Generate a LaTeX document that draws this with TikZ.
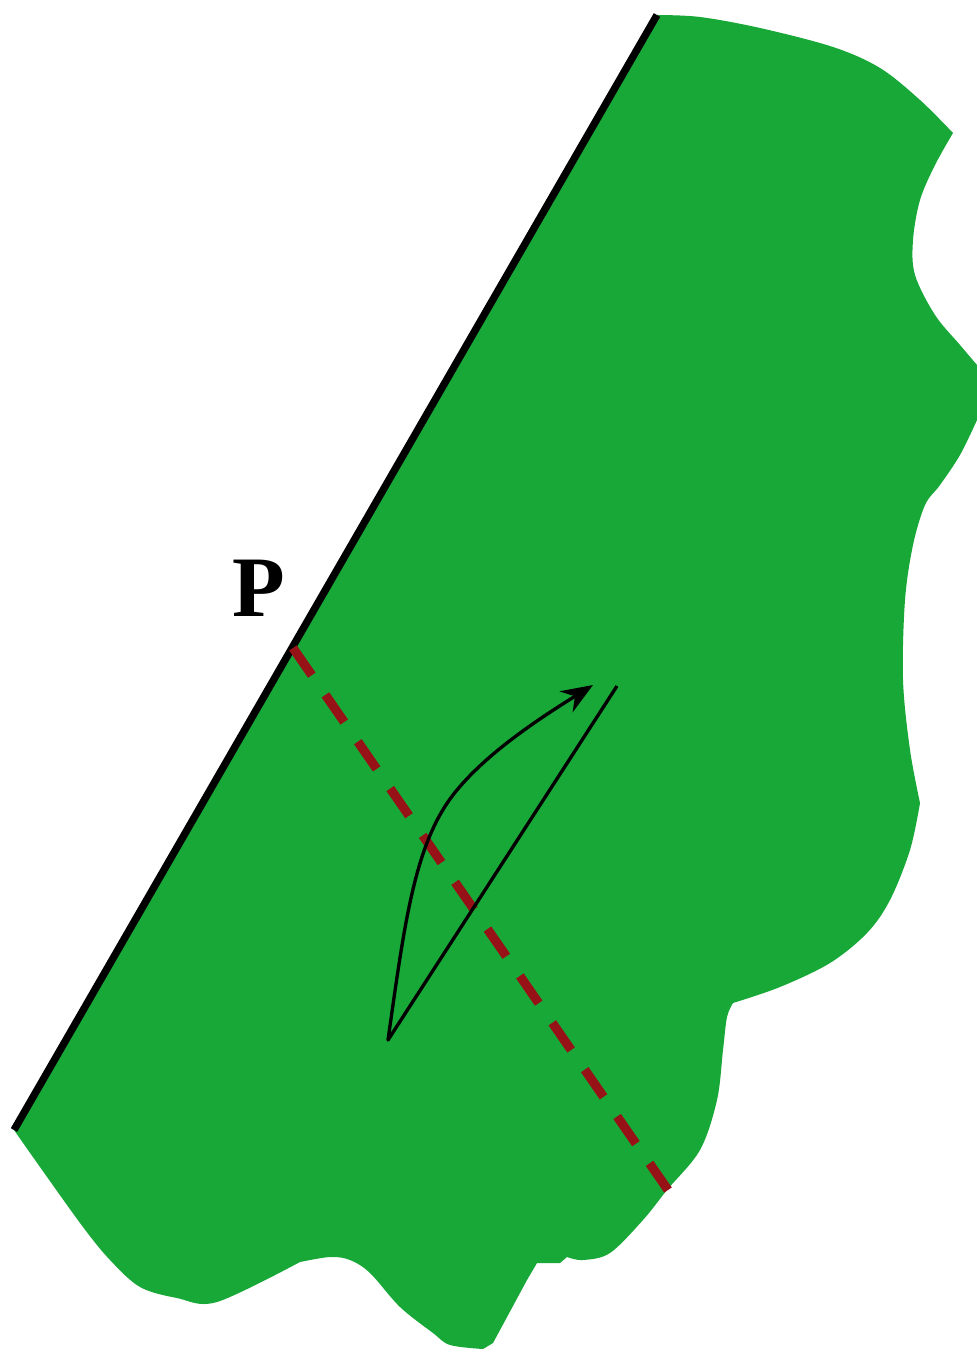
\documentclass[tikz,border=0pt]{standalone}
\usepackage{fontspec}
\setmainfont{Liberation Serif}
\usetikzlibrary{arrows.meta}
\definecolor{landgreen}{RGB}{24,168,56}
\definecolor{cutred}{RGB}{150,18,22}
\begin{document}
\begin{tikzpicture}[x=0.01cm,y=-0.01cm,
  shore/.style={line width=2.1pt,black},
  cutline/.style={cutred,line width=2.6pt,dash pattern=on 9.4pt off 6.8pt},
  motion/.style={black,line width=0.95pt,line join=round}]
\useasboundingbox (0,0) rectangle (977,1349);
% green region
\fill[landgreen] (657,15)
  -- plot[smooth,tension=0.55] coordinates {(657,15) (700,17) (760,28) (833,47) (880,68) (920,100) (953,133)}
  -- plot[smooth,tension=0.55] coordinates {(953,133) (935,165) (920,200) (913,240) (915,275) (935,315) (960,345) (977,365)}
  -- (977,420)
  -- plot[smooth,tension=0.55] coordinates {(977,420) (960,455) (940,485) (925,505) (913,545) (905,600) (903,680) (910,750) (920,803)}
  -- plot[smooth,tension=0.55] coordinates {(920,803) (910,850) (890,900) (867,933) (830,963) (780,987) (733,1003)}
  -- plot[smooth,tension=0.55] coordinates {(733,1003) (727,1017) (723,1050) (717,1100) (700,1150) (667,1190) (643,1220) (610,1253) (583,1260) (567,1257)}
  -- (560,1263) -- (537,1263) -- (527,1280) -- (493,1343) -- (483,1349)
  -- plot[smooth,tension=0.55] coordinates {(483,1349) (450,1345) (433,1333) (400,1307) (370,1273) (350,1260) (330,1257) (300,1262)}
  -- plot[smooth,tension=0.55] coordinates {(300,1262) (217,1302) (177,1298) (140,1287) (110,1260) (83,1227) (40,1167) (14,1130)}
  -- cycle;
% shore line
\coordinate (s1) at (657,15);
\coordinate (s2) at (14,1130);
\draw[shore] (s1) -- (s2);
% label
\node[font=\bfseries\fontsize{24.5}{28}\selectfont,inner sep=0pt] (P) at (259,588) {P};
% dashed section
\coordinate (d1) at (293,648);
\coordinate (d2) at (668,1190);
\draw[cutline] (d1) -- (d2);
% motion path
\coordinate (m0) at (617,686);
\coordinate (m1) at (388,1040);
\coordinate (m2) at (593,685);
\draw[motion,-{Stealth[length=9pt,width=7pt]}] (m0) -- (m1)
  .. controls (405,920) and (415,840) .. (457,790)
  .. controls (490,750) and (545,715) .. (m2);
\end{tikzpicture}
\end{document}
